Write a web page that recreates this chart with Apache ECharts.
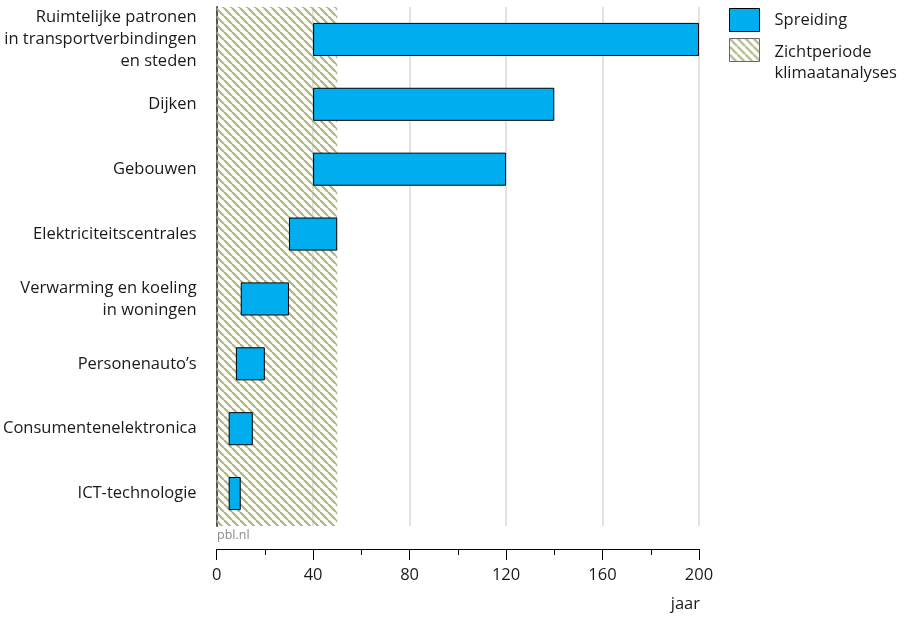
<!DOCTYPE html>
<html>
<head>
<meta charset="utf-8">
<script src="https://cdn.jsdelivr.net/npm/echarts@6/dist/echarts.min.js"></script>
<style>
html,body{margin:0;padding:0;background:#fff;}
#chart{width:908px;height:619px;}
</style>
</head>
<body>
<div id="chart"></div>
<script>
// ---- data ----
var categories = [
  'Ruimtelijke patronen\nin transportverbindingen\nen steden',
  'Dijken',
  'Gebouwen',
  'Elektriciteitscentrales',
  'Verwarming en koeling\nin woningen',
  'Personenauto\u2019s',
  'Consumentenelektronica',
  'ICT-technologie'
];
var spreadStart = [40, 40, 40, 30, 10, 8, 5, 5];
var spreadEnd   = [200, 140, 120, 50, 30, 20, 15, 10];
var horizonStart = 0;
var horizonEnd = 50;
var xTicks = [0, 40, 80, 120, 160, 200];
var spreadName = 'Spreiding';
var horizonName = 'Zichtperiode klimaatanalyses';

// ---- hatch pattern ----
function makeHatch() {
  var c = document.createElement('canvas');
  c.width = 8; c.height = 8;
  var g = c.getContext('2d');
  g.strokeStyle = '#aeb480';
  g.lineWidth = 2.2;
  [-8, 0, 8].forEach(function (k) {
    g.beginPath();
    g.moveTo(k, 0);
    g.lineTo(k + 8, 8);
    g.stroke();
  });
  return c;
}
var hatch = { image: makeHatch(), repeat: 'repeat' };

var FONT = '"Open Sans", "Noto Sans", sans-serif';
var FS = 16.5;
var chart = echarts.init(document.getElementById('chart'), null, { renderer: 'canvas' });

var spreadLen = spreadEnd.map(function (v, i) { return v - spreadStart[i]; });

var legendBase = {
  orient: 'vertical',
  left: 729,
  padding: 0,
  itemWidth: 30,
  itemHeight: 23,
  selectedMode: false,
  icon: 'rect'
};

chart.setOption({
  animation: false,
  textStyle: { fontFamily: FONT },
  grid: { left: 216, right: 209, top: 7, bottom: 93, containLabel: false },
  legend: [
    Object.assign({}, legendBase, {
      top: 8,
      textStyle: { fontFamily: FONT, fontSize: FS, color: '#1a1a1a', lineHeight: 21, padding: [0, 0, 0, 10] },
      data: [{ name: spreadName, itemStyle: { color: '#00aeef', borderColor: '#000', borderWidth: 1 } }]
    }),
    Object.assign({}, legendBase, {
      top: 27,
      formatter: function () { return '{s| }\n{a|Zichtperiode}\n{a|klimaatanalyses}'; },
      textStyle: {
        fontFamily: FONT, fontSize: FS, color: '#1a1a1a', padding: [0, 0, 0, 10],
        rich: {
          s: { fontSize: 4, lineHeight: 25 },
          a: { fontFamily: FONT, fontSize: FS, color: '#1a1a1a', lineHeight: 21 }
        }
      },
      data: [{ name: horizonName, itemStyle: { color: hatch, borderColor: '#666', borderWidth: 1 } }]
    })
  ],
  xAxis: {
    type: 'value',
    min: 0,
    max: 200,
    interval: 40,
    offset: 23,
    axisLine: { show: true, lineStyle: { color: '#000', width: 1 } },
    axisTick: { show: true, length: 11, lineStyle: { color: '#000' } },
    minorTick: { show: true, splitNumber: 2, length: 6, lineStyle: { color: '#000' } },
    axisLabel: { fontFamily: FONT, fontSize: FS, color: '#1a1a1a', margin: 18,
      formatter: function (v) { return xTicks.indexOf(v) >= 0 ? String(v) : ''; } },
    splitLine: { show: true, lineStyle: { color: '#d9d9d9', width: 1.5 } }
  },
  yAxis: {
    type: 'category',
    inverse: true,
    data: categories,
    axisLine: { show: true, lineStyle: { color: '#555', width: 2 } },
    axisTick: { show: false },
    axisLabel: { fontFamily: FONT, fontSize: FS, color: '#1a1a1a', margin: 20, lineHeight: 22, align: 'right' }
  },
  series: [
    {
      name: horizonName,
      type: 'bar',
      data: [],
      itemStyle: { color: hatch },
      markArea: {
        silent: true,
        itemStyle: { color: hatch },
        data: [[{ xAxis: horizonStart }, { xAxis: horizonEnd }]]
      },
      z: 1
    },
    {
      name: 'base',
      type: 'bar',
      stack: 's',
      data: spreadStart,
      barWidth: '51%',
      itemStyle: { color: 'transparent' },
      silent: true,
      z: 3
    },
    {
      name: spreadName,
      type: 'bar',
      stack: 's',
      data: spreadLen,
      barWidth: '51%',
      itemStyle: { color: '#00aeef', borderColor: '#000', borderWidth: 1 },
      z: 3
    }
  ],
  graphic: [
    { type: 'text', left: 217, top: 529, style: { text: 'pbl.nl', fontFamily: FONT, fontSize: 12.5, fill: '#8c8c8c' } },
    { type: 'text', right: 208, top: 596, style: { text: 'jaar', fontFamily: FONT, fontSize: FS, fill: '#1a1a1a' } }
  ]
});
</script>
</body>
</html>
